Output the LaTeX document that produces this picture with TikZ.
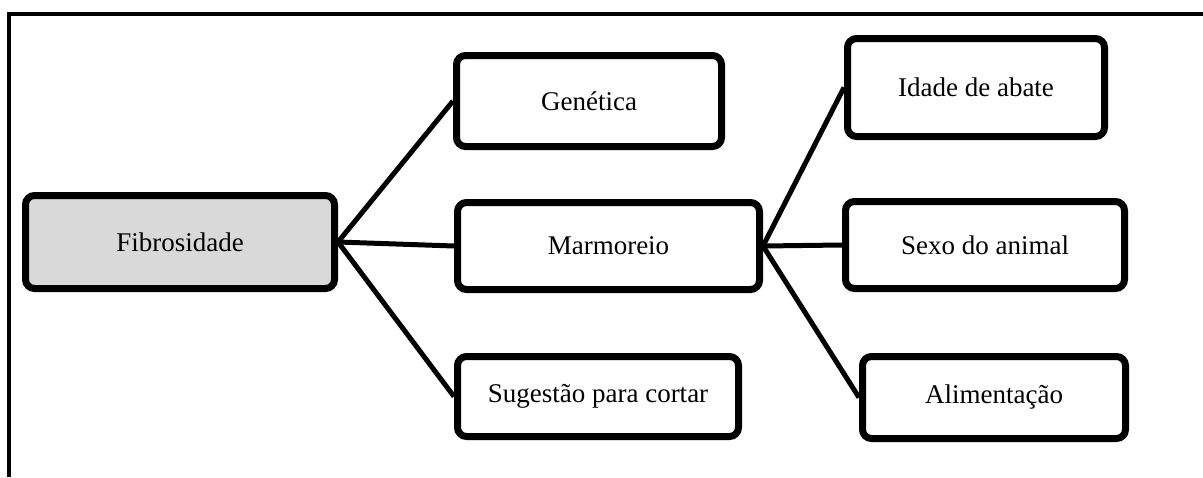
\documentclass[tikz,border=0pt]{standalone}
\usepackage{fontspec}
\setmainfont{Liberation Serif}
\begin{document}
\begin{tikzpicture}[x=1pt,y=-1pt,
  box/.style={draw=black, line width=7pt, rounded corners=9pt, fill=white,
    inner sep=0pt, font=\fontsize{27}{32}\selectfont, align=center},
  link/.style={draw=black, line width=5pt},
  frame/.style={draw=black, line width=4pt}]
\useasboundingbox (0,0) rectangle (1203,477);
\draw[frame] (9,477) -- (9,14) -- (1203,14);
\node[box, fill={rgb,255:red,217;green,217;blue,217}, minimum width=309pt, minimum height=93pt] (fib) at (180,242) {Fibrosidade};
\node[box, minimum width=265pt, minimum height=91pt] (gen) at (589,101) {Genética};
\node[box, minimum width=302pt, minimum height=87pt] (mar) at (608.5,246) {Marmoreio};
\node[box, minimum width=281pt, minimum height=80pt] (sug) at (598,396.5) {Sugestão para cortar};
\node[box, minimum width=257pt, minimum height=98pt] (ida) at (976,87.5) {Idade de abate};
\node[box, minimum width=279pt, minimum height=87pt] (sex) at (985,245) {Sexo do animal};
\node[box, minimum width=263pt, minimum height=82pt] (ali) at (994,397.5) {Alimentação};
\draw[link] (fib.east) -- (gen.west);
\draw[link] (fib.east) -- (mar.west);
\draw[link] (fib.east) -- (sug.west);
\draw[link] (mar.east) -- (ida.west);
\draw[link] (mar.east) -- (sex.west);
\draw[link] (mar.east) -- (ali.west);
\end{tikzpicture}
\end{document}
